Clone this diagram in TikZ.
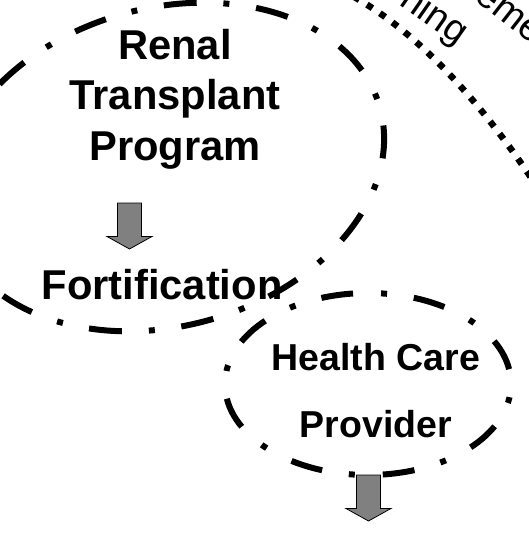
\documentclass[tikz,border=0pt]{standalone}
\usepackage{fontspec}
\setmainfont{Liberation Sans}
\usepackage{tikz}
\usetikzlibrary{calc}

% gray block arrow pointing down, #1 = top centre of the shaft
\newcommand{\blockdown}[1]{%
  \draw[fill=gray, line width=0.8pt] ($(#1)+(-12,0)$) -- ++(0,33.5) -- ++(-10.5,0)
    -- ($(#1)+(0,46)$) -- ($(#1)+(22.5,33.5)$) -- ++(-10.5,0) -- ($(#1)+(12,0)$) -- cycle;}

\begin{document}
\begin{tikzpicture}[x=1pt, y=-1pt,
    bigtext/.style={font=\fontsize{41.7}{50.5}\selectfont\bfseries, align=center, inner sep=0pt},
    midtext/.style={font=\fontsize{37.5}{67}\selectfont\bfseries, align=center, inner sep=0pt},
    arctext/.style={font=\fontsize{38}{44}\selectfont, inner sep=0pt},
    ring/.style={line width=6pt}]
  \useasboundingbox (0,0) rectangle (529,539);
  \clip (0,0) rectangle (529,539);

  % Labels (base = baseline of the last line)
  \node[bigtext, anchor=base] (renal) at (175,160) {Renal\\Transplant\\Program};
  \node[bigtext, anchor=base] (fort) at (162,299) {Fortification};
  \node[midtext, anchor=base] (hcp) at (376,437) {Health Care\\Provider};

  % Text running along the dotted arc (cut by the frame)
  \node[arctext, rotate=-35, anchor=base] (plan) at (428,25) {ning};
  \node[arctext, rotate=-38, anchor=base] (agree) at (503,22) {eme};

  % Block arrows
  \coordinate (a1) at (129.5,203);
  \coordinate (a2) at (368.5,475);
  \blockdown{a1}
  \blockdown{a2}

  % Dash-dot rings
  \coordinate (c1) at (166,167);
  \draw[ring, dash pattern=on 33pt off 27pt on 6pt off 26.7pt, dash phase=51pt,
        rotate around={15.5:(c1)}] (c1) ellipse [x radius=222pt, y radius=159pt];
  \coordinate (c2) at (368,384);
  \draw[ring, dash pattern=on 32pt off 27pt on 6pt off 28pt, dash phase=78pt]
        (c2) ellipse [x radius=143pt, y radius=91pt];

  % Dotted arc at top right
  \draw[line width=6.5pt, dash pattern=on 6.5pt off 9pt]
        (340,-10.6) .. controls (408.3,23.2) and (476.7,93) .. (545,198.7);
\end{tikzpicture}
\end{document}
